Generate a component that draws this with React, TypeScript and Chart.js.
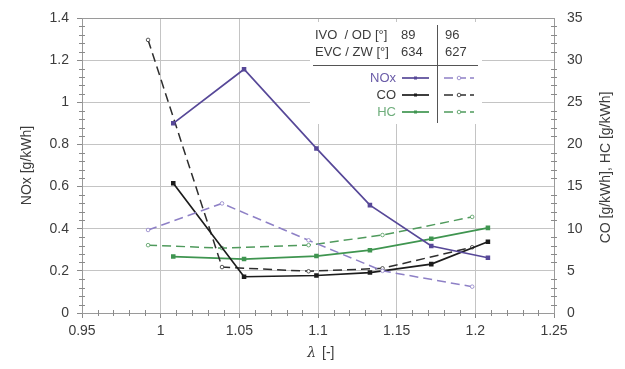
import React, { useEffect, useRef } from "react";
import { Chart, registerables } from "chart.js";

Chart.register(...registerables);

// Air ratio (lambda) of the measured operating points for each valve setting
const lambdaA = [1.008, 1.053, 1.099, 1.133, 1.172, 1.208];
const lambdaB = [0.992, 1.039, 1.094, 1.141, 1.198];

// Emissions, setting A (IVO/OD 89°, EVC/ZW 634°)
const noxA = [0.9, 1.157, 0.781, 0.512, 0.318, 0.262];
const coA = [15.4, 4.3, 4.45, 4.8, 5.8, 8.45];
const hcA = [6.7, 6.4, 6.75, 7.45, 8.8, 10.1];

// Emissions, setting B (IVO/OD 96°, EVC/ZW 627°)
const noxB = [0.394, 0.52, 0.345, 0.2, 0.125];
const coB = [32.4, 5.45, 4.95, 5.3, 7.8];
const hcB = [8.05, 7.7, 8.05, 9.25, 11.4];

// Axis ticks
const xTicks = [0.95, 1, 1.05, 1.1, 1.15, 1.2, 1.25];
const noxTicks = [0, 0.2, 0.4, 0.6, 0.8, 1, 1.2, 1.4];
const coTicks = [0, 5, 10, 15, 20, 25, 30, 35];

// Legend table
const settingRows = [
  ["IVO  / OD [°]", "89", "96"],
  ["EVC / ZW [°]", "634", "627"],
];
const seriesNames = ["NOx", "CO", "HC"];

const FONT = "'Liberation Sans', Arial, sans-serif";
const TEXT = "#3c3c3c";
const NOX_A = "#574898";
const NOX_B = "#8e80c6";
const CO_A = "#1c1c1c";
const CO_B = "#2e2e2e";
const HC_A = "#3f9550";
const HC_B = "#4f9a5c";

const pts = (xs: number[], ys: number[]) => xs.map((x, i) => ({ x, y: ys[i] }));

const solid = (label: string, xs: number[], ys: number[], color: string, axis: string) => ({
  label,
  data: pts(xs, ys),
  yAxisID: axis,
  borderColor: color,
  backgroundColor: color,
  borderWidth: 1.7,
  pointRadius: 2,
  pointStyle: "rect" as const,
  pointBackgroundColor: color,
  pointBorderColor: color,
  tension: 0,
});

const dashed = (label: string, xs: number[], ys: number[], color: string, axis: string) => ({
  label,
  data: pts(xs, ys),
  yAxisID: axis,
  borderColor: color,
  backgroundColor: "#ffffff",
  borderWidth: 1.5,
  borderDash: [9, 5],
  pointRadius: 1.8,
  pointBackgroundColor: "#ffffff",
  pointBorderColor: color,
  pointBorderWidth: 0.8,
  tension: 0,
});

const decorations = {
  id: "decorations",
  afterDraw(chart: any) {
    const { ctx, chartArea: a, scales } = chart;
    const xs = scales.x;
    const yl = scales.y;
    const yr = scales.y2;
    ctx.save();

    // plot frame
    ctx.strokeStyle = "#9a9a9a";
    ctx.lineWidth = 1;
    ctx.setLineDash([]);
    ctx.strokeRect(a.left + 0.5, a.top + 0.5, a.right - a.left, a.bottom - a.top);

    // minor ticks
    ctx.strokeStyle = "#8a8a8a";
    ctx.beginPath();
    for (let i = 0; i <= 30; i++) {
      if (i % 5 === 0) continue;
      const px = Math.round(xs.getPixelForValue(0.95 + i * 0.01)) + 0.5;
      ctx.moveTo(px, a.bottom - 3);
      ctx.lineTo(px, a.bottom + 3);
    }
    for (let i = 0; i <= 35; i++) {
      if (i % 5 === 0) continue;
      const pl = Math.round(yl.getPixelForValue(i * 0.04)) + 0.5;
      ctx.moveTo(a.left - 3, pl);
      ctx.lineTo(a.left + 3, pl);
      const pr = Math.round(yr.getPixelForValue(i)) + 0.5;
      ctx.moveTo(a.right - 3, pr);
      ctx.lineTo(a.right + 3, pr);
    }
    ctx.stroke();

    // axis titles
    ctx.fillStyle = TEXT;
    ctx.font = `14px ${FONT}`;
    ctx.textAlign = "center";
    ctx.textBaseline = "middle";
    ctx.save();
    ctx.translate(27, (a.top + a.bottom) / 2);
    ctx.rotate(-Math.PI / 2);
    ctx.fillText("NOx [g/kWh]", 0, 0);
    ctx.restore();
    ctx.save();
    ctx.translate(606, (a.top + a.bottom) / 2 + 2);
    ctx.rotate(-Math.PI / 2);
    ctx.fillText("CO [g/kWh], HC [g/kWh]", 0, 0);
    ctx.restore();
    ctx.font = `italic 14px 'DejaVu Serif', serif`;
    ctx.textAlign = "right";
    ctx.fillText("λ", 316, 353);
    ctx.font = `14px ${FONT}`;
    ctx.textAlign = "left";
    ctx.fillText("[-]", 322, 353);

    // legend table
    ctx.fillStyle = "#ffffff";
    ctx.fillRect(310, 22, 172, 102);
    ctx.fillStyle = TEXT;
    ctx.font = `13px ${FONT}`;
    ctx.textAlign = "left";
    settingRows.forEach((row, i) => {
      const y = 35 + i * 17.5;
      ctx.fillText(row[0], 315, y);
      ctx.fillText(row[1], 401, y);
      ctx.fillText(row[2], 445, y);
    });
    ctx.strokeStyle = "#555";
    ctx.lineWidth = 1;
    ctx.beginPath();
    ctx.moveTo(313, 65.5);
    ctx.lineTo(478, 65.5);
    ctx.moveTo(437.5, 25);
    ctx.lineTo(437.5, 123);
    ctx.stroke();

    const colsA = [NOX_A, CO_A, HC_A];
    const colsB = [NOX_B, CO_B, HC_B];
    const textCols = ["#6a5ca8", TEXT, "#6fae7c"];
    seriesNames.forEach((name, i) => {
      const y = 78 + i * 17;
      ctx.fillStyle = textCols[i];
      ctx.textAlign = "right";
      ctx.fillText(name, 396, y);
      // solid sample
      ctx.strokeStyle = colsA[i];
      ctx.lineWidth = 1.7;
      ctx.setLineDash([]);
      ctx.beginPath();
      ctx.moveTo(402, y);
      ctx.lineTo(429, y);
      ctx.stroke();
      ctx.fillStyle = colsA[i];
      ctx.fillRect(414, y - 1.5, 3, 3);
      // dashed sample
      ctx.strokeStyle = colsB[i];
      ctx.lineWidth = 1.5;
      ctx.setLineDash([9, 4]);
      ctx.beginPath();
      ctx.moveTo(444, y);
      ctx.lineTo(474, y);
      ctx.stroke();
      ctx.setLineDash([]);
      ctx.fillStyle = "#fff";
      ctx.beginPath();
      ctx.arc(459, y, 1.8, 0, Math.PI * 2);
      ctx.fill();
      ctx.lineWidth = 0.8;
      ctx.stroke();
    });
    ctx.restore();
  },
};

const fmt = (v: number) => String(Number(v.toFixed(2)));

export default function App() {
  const ref = useRef<HTMLCanvasElement>(null);

  useEffect(() => {
    if (!ref.current) return;
    const tickFont = { family: FONT, size: 14 };
    const grid = {
      color: "#c4c4c4",
      lineWidth: 1,
      borderDash: [2, 2],
      drawTicks: true,
      tickLength: 5,
      tickColor: "#8a8a8a",
      tickBorderDash: [],
    };
    const chart = new Chart(ref.current, {
      type: "line",
      data: {
        datasets: [
          solid("NOx A", lambdaA, noxA, NOX_A, "y"),
          dashed("NOx B", lambdaB, noxB, NOX_B, "y"),
          solid("CO A", lambdaA, coA, CO_A, "y2"),
          dashed("CO B", lambdaB, coB, CO_B, "y2"),
          solid("HC A", lambdaA, hcA, HC_A, "y2"),
          dashed("HC B", lambdaB, hcB, HC_B, "y2"),
        ] as any,
      },
      options: {
        responsive: false,
        animation: false,
        layout: { padding: { top: 18, left: 0, right: 0, bottom: 0 } },
        plugins: { legend: { display: false }, tooltip: { enabled: false } },
        scales: {
          x: {
            type: "linear",
            min: 0.95,
            max: 1.25,
            afterBuildTicks: (s: any) => {
              s.ticks = xTicks.map((value) => ({ value }));
            },
            afterFit: (s: any) => {
              s.height = 56;
            },
            ticks: { font: tickFont, color: TEXT, padding: 5, maxRotation: 0, callback: (v: any) => fmt(v) },
            grid,
            border: { color: "#8a8a8a" },
          },
          y: {
            type: "linear",
            position: "left",
            min: 0,
            max: 1.4,
            afterBuildTicks: (s: any) => {
              s.ticks = noxTicks.map((value) => ({ value }));
            },
            afterFit: (s: any) => {
              s.width = 82;
            },
            ticks: { font: tickFont, color: TEXT, padding: 8, callback: (v: any) => fmt(v) },
            grid,
            border: { color: "#8a8a8a" },
          },
          y2: {
            type: "linear",
            position: "right",
            min: 0,
            max: 35,
            afterBuildTicks: (s: any) => {
              s.ticks = coTicks.map((value) => ({ value }));
            },
            afterFit: (s: any) => {
              s.width = 71;
            },
            ticks: { font: tickFont, color: TEXT, padding: 8, callback: (v: any) => fmt(v) },
            grid: { display: false, drawTicks: true, tickLength: 5 },
            border: { color: "#8a8a8a" },
          },
        },
      },
      plugins: [decorations],
    });
    return () => chart.destroy();
  }, []);

  return (
    <div style={{ position: "fixed", left: 0, top: 0, width: 625, height: 369, background: "#fff" }}>
      <canvas ref={ref} width={625} height={369} />
    </div>
  );
}
